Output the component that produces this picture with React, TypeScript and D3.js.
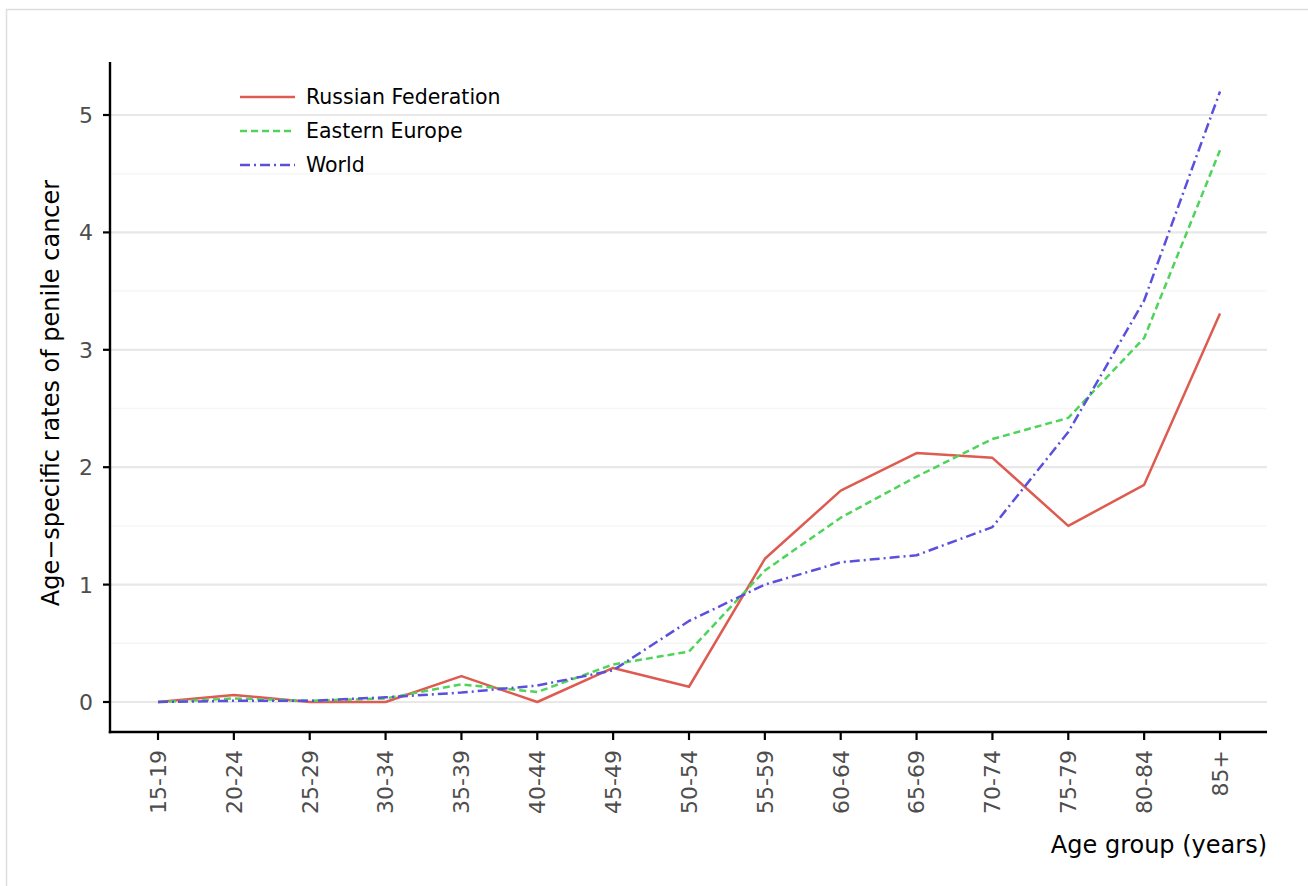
import React from "react";
import * as d3 from "d3";

const ageGroups = ["15-19","20-24","25-29","30-34","35-39","40-44","45-49","50-54","55-59","60-64","65-69","70-74","75-79","80-84","85+"];
const russia = [0, 0.06, 0, 0, 0.22, 0, 0.29, 0.13, 1.22, 1.80, 2.12, 2.08, 1.50, 1.85, 3.31];
const easternEurope = [0, 0.03, 0.01, 0.03, 0.15, 0.085, 0.32, 0.43, 1.12, 1.57, 1.92, 2.24, 2.42, 3.10, 4.70];
const world = [0, 0.01, 0.01, 0.04, 0.08, 0.14, 0.27, 0.69, 1.00, 1.19, 1.25, 1.49, 2.30, 3.42, 5.20];
const yTicks = [0, 1, 2, 3, 4, 5];
const yMinor = [0.5, 1.5, 2.5, 3.5, 4.5];

const seriesList = [
  { name: "Russian Federation", values: russia, color: "#dd5b50", dash: "none" },
  { name: "Eastern Europe", values: easternEurope, color: "#4fd35a", dash: "7,4" },
  { name: "World", values: world, color: "#5b50dd", dash: "10,4,2,4" },
];

const W = 1308, H = 886;
const left = 110, right = 1267, top = 62, bottom = 732;

export default function App() {
  const x = d3.scalePoint<string>().domain(ageGroups).range([158, 1220]);
  const y = d3.scaleLinear().domain([0, 5]).range([702, 115]);
  const line = d3.line<number>().x((_, i) => x(ageGroups[i]) as number).y((d) => y(d));
  const font = "'DejaVu Sans', sans-serif";
  return (
    <svg width={W} height={H} style={{ position: "absolute", left: 0, top: 0, background: "#fff" }} fontFamily={font}>
      <rect x={6.5} y={9.5} width={1400} height={1000} fill="#fff" stroke="#dedede" strokeWidth={1.5} />
      {yMinor.map((v) => (
        <line key={"m" + v} x1={left} x2={right} y1={y(v)} y2={y(v)} stroke="#f6f6f6" strokeWidth={1.5} />
      ))}
      {yTicks.map((v) => (
        <line key={"g" + v} x1={left} x2={right} y1={y(v)} y2={y(v)} stroke="#e8e8e8" strokeWidth={2.2} />
      ))}
      {seriesList.map((s) => (
        <path key={s.name} d={line(s.values) || ""} fill="none" stroke={s.color} strokeWidth={2.5}
          strokeDasharray={s.dash} strokeLinejoin="round" />
      ))}
      <line x1={left} x2={left} y1={top} y2={bottom + 1.2} stroke="#000" strokeWidth={2.4} />
      <line x1={left - 1.2} x2={right} y1={bottom} y2={bottom} stroke="#000" strokeWidth={2.4} />
      {yTicks.map((v) => (
        <g key={"t" + v}>
          <line x1={left - 7} x2={left} y1={y(v)} y2={y(v)} stroke="#000" strokeWidth={2.2} />
          <text x={left - 17} y={y(v)} dy="0.36em" textAnchor="end" fontSize={22} fill="#4d4d4d">{v}</text>
        </g>
      ))}
      {ageGroups.map((g) => (
        <g key={g}>
          <line x1={x(g)} x2={x(g)} y1={bottom} y2={bottom + 8} stroke="#000" strokeWidth={2.2} />
          <text transform={`translate(${x(g)},${bottom + 18}) rotate(-90)`} dy="0.36em" textAnchor="end" fontSize={22} fill="#4d4d4d">{g}</text>
        </g>
      ))}
      <text transform={`translate(59,393) rotate(-90)`} textAnchor="middle" fontSize={24} fill="#000">Age−specific rates of penile cancer</text>
      <text x={right} y={853} textAnchor="end" fontSize={24} fill="#000">Age group (years)</text>
      {seriesList.map((s, i) => (
        <g key={"l" + s.name} transform={`translate(0,${97 + i * 34})`}>
          <line x1={240} x2={295} y1={0} y2={0} stroke={s.color} strokeWidth={2.5} strokeDasharray={s.dash} />
          <text x={306} y={0} dy="0.36em" fontSize={20.5} fill="#000">{s.name}</text>
        </g>
      ))}
    </svg>
  );
}
